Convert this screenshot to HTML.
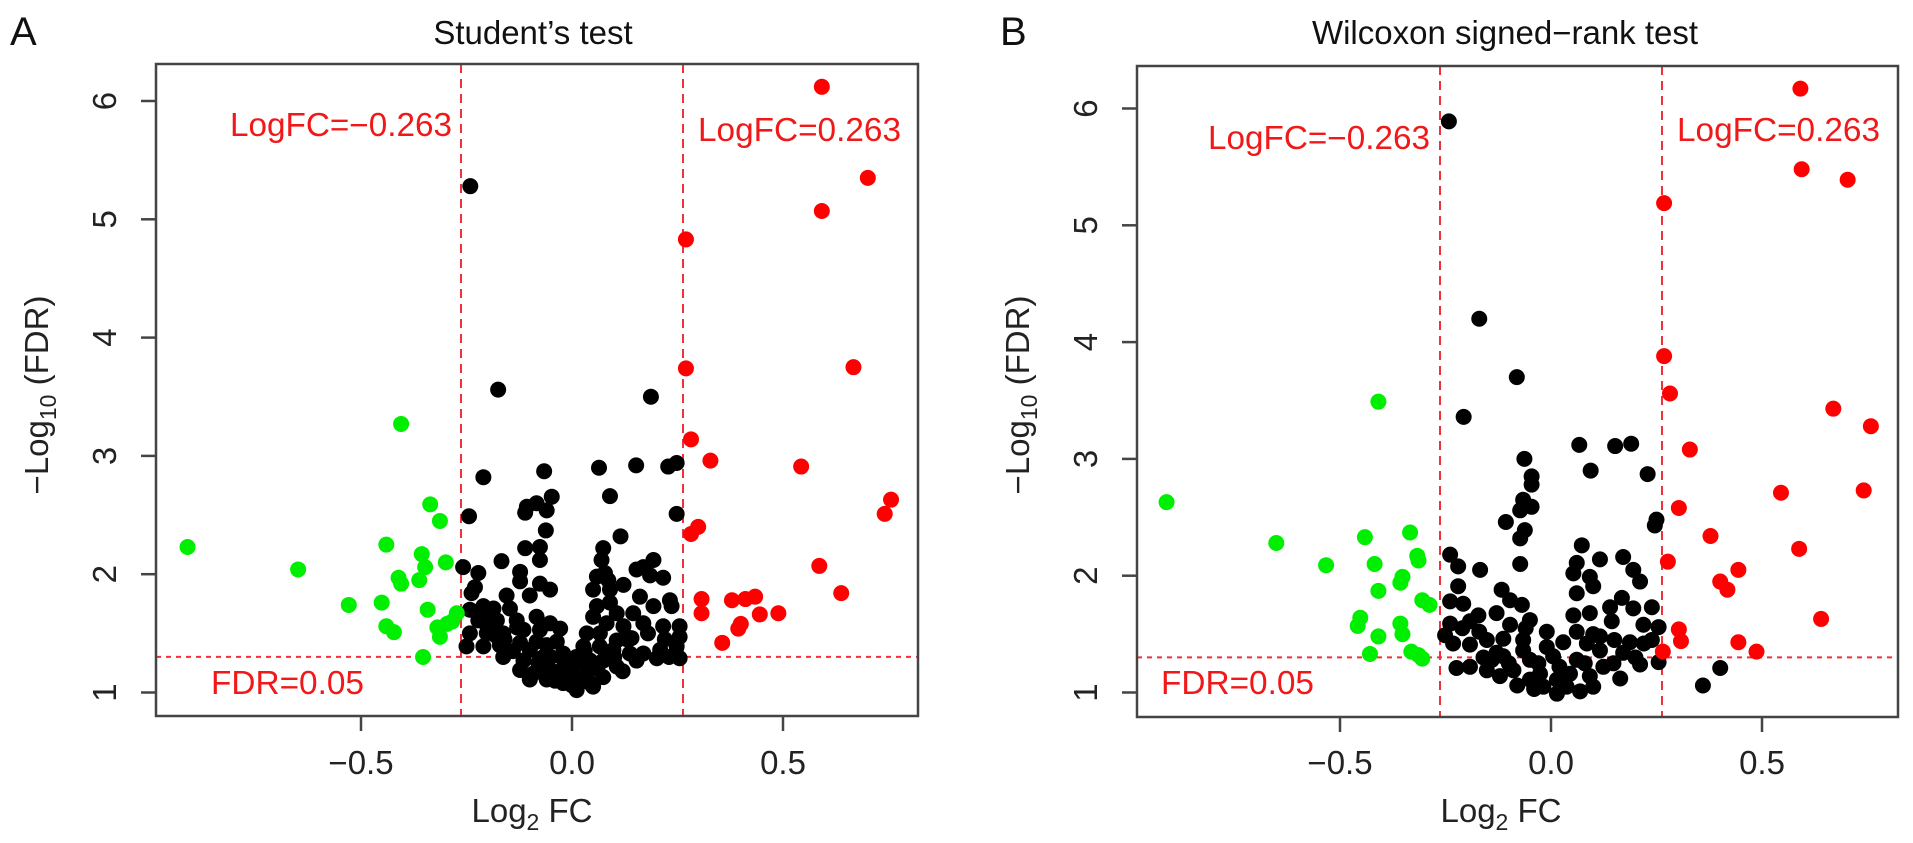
<!DOCTYPE html>
<html><head><meta charset="utf-8"><title>Volcano plots</title>
<style>
html,body{margin:0;padding:0;background:#fff;}
svg{display:block;font-family:"Liberation Sans",Arial,sans-serif;}
</style></head>
<body>
<svg id="chart" width="1913" height="843" viewBox="0 0 1913 843" xmlns="http://www.w3.org/2000/svg"></svg>
<script>
// ---------- data: Panel A (Student's test) ----------
const aRedX = [0.592,0.701,0.592,0.270,0.667,0.270,0.282,0.328,0.543,0.756,0.741,0.299,0.282,0.586,0.638,0.307,0.307,0.379,0.434,0.411,0.445,0.489,0.400,0.394,0.356];
const aRedY = [6.12,5.35,5.07,4.83,3.75,3.74,3.14,2.96,2.91,2.63,2.51,2.40,2.34,2.07,1.84,1.79,1.67,1.78,1.81,1.79,1.66,1.67,1.58,1.54,1.42];
const aGreenX = [-0.911,-0.649,-0.405,-0.336,-0.313,-0.440,-0.356,-0.299,-0.348,-0.411,-0.405,-0.362,-0.529,-0.451,-0.342,-0.273,-0.284,-0.440,-0.422,-0.319,-0.313,-0.296,-0.353];
const aGreenY = [2.23,2.04,3.27,2.59,2.45,2.25,2.17,2.10,2.06,1.97,1.92,1.95,1.74,1.76,1.70,1.67,1.60,1.56,1.51,1.55,1.47,1.58,1.30];
const aBlackX = [-0.241,-0.175,0.187,-0.210,-0.066,0.064,0.152,0.228,0.248,-0.244,-0.111,-0.107,-0.084,-0.048,-0.060,-0.062,0.090,0.248,0.115,-0.111,-0.076,-0.076,-0.167,-0.258,-0.222,-0.230,-0.238,-0.123,-0.123,-0.076,-0.052,-0.155,-0.100,-0.210,-0.186,-0.147,-0.242,-0.222,-0.178,-0.131,-0.084,-0.052,-0.028,-0.242,-0.202,-0.163,-0.115,-0.076,-0.250,-0.210,-0.171,-0.123,-0.084,-0.036,-0.163,-0.115,-0.068,-0.021,-0.123,-0.092,-0.052,-0.013,0.027,-0.100,-0.060,-0.021,0.011,0.043,0.074,0.106,0.003,0.074,0.070,0.078,0.059,0.086,0.050,0.090,0.122,0.153,0.169,0.193,0.185,0.216,0.161,0.193,0.232,0.236,0.059,0.090,0.106,0.145,0.050,0.082,0.122,0.169,0.216,0.255,0.035,0.066,0.106,0.141,0.255,0.027,0.066,0.098,0.137,0.169,0.209,0.248,0.255,0.043,0.074,0.153,0.201,-0.190,-0.160,-0.100,-0.050,0.000,0.020,0.040,-0.040,-0.080,0.010,0.100,0.120,-0.200,-0.220,-0.180,-0.140,-0.130,-0.060,-0.020,0.030,0.060,0.090,0.130,0.180,0.220,0.230,-0.030,0.050,-0.070,0.000];
const aBlackY = [5.28,3.56,3.50,2.82,2.87,2.90,2.92,2.91,2.94,2.49,2.52,2.57,2.60,2.655,2.54,2.37,2.66,2.51,2.32,2.22,2.23,2.12,2.11,2.06,2.01,1.89,1.84,2.02,1.94,1.92,1.87,1.82,1.82,1.73,1.71,1.71,1.70,1.61,1.61,1.61,1.64,1.585,1.54,1.50,1.50,1.50,1.53,1.53,1.39,1.39,1.40,1.42,1.43,1.43,1.30,1.27,1.30,1.33,1.19,1.16,1.19,1.22,1.25,1.11,1.11,1.08,1.02,1.08,1.13,1.22,1.13,2.22,2.12,2.01,1.98,1.95,1.87,1.87,1.91,2.04,2.06,2.12,1.99,1.97,1.81,1.73,1.78,1.73,1.73,1.76,1.67,1.67,1.64,1.585,1.56,1.585,1.56,1.56,1.50,1.50,1.44,1.46,1.47,1.39,1.39,1.36,1.33,1.33,1.36,1.39,1.29,1.27,1.27,1.27,1.29,1.62,1.45,1.36,1.30,1.18,1.12,1.20,1.10,1.25,1.30,1.30,1.18,1.55,1.65,1.48,1.35,1.55,1.40,1.28,1.35,1.20,1.32,1.45,1.50,1.45,1.30,1.18,1.05,1.20,1.06];

// ---------- data: Panel B (Wilcoxon signed-rank test) ----------
const bRedX = [0.591,0.594,0.703,0.268,0.268,0.282,0.669,0.758,0.329,0.741,0.545,0.303,0.378,0.588,0.277,0.444,0.401,0.418,0.640,0.303,0.308,0.444,0.487,0.265];
const bRedY = [6.17,5.48,5.39,5.19,3.88,3.56,3.43,3.28,3.08,2.73,2.71,2.58,2.34,2.23,2.12,2.05,1.95,1.88,1.63,1.54,1.44,1.43,1.35,1.35];
const bGreenX = [-0.911,-0.651,-0.409,-0.533,-0.441,-0.334,-0.317,-0.314,-0.418,-0.352,-0.357,-0.409,-0.305,-0.288,-0.452,-0.458,-0.357,-0.352,-0.429,-0.331,-0.314,-0.305,-0.409];
const bGreenY = [2.63,2.28,3.49,2.09,2.33,2.37,2.17,2.13,2.10,1.99,1.94,1.87,1.79,1.75,1.64,1.57,1.59,1.50,1.33,1.35,1.32,1.29,1.48];
const bBlackX = [-0.242,-0.170,-0.081,-0.207,0.401,0.360,0.067,0.152,0.190,-0.063,0.094,0.229,-0.046,-0.046,-0.066,-0.046,-0.073,-0.107,-0.062,-0.073,0.250,0.246,0.073,-0.239,-0.220,-0.168,-0.073,0.061,0.116,0.171,0.053,0.092,0.195,0.211,-0.220,-0.117,0.061,0.100,-0.239,-0.208,-0.097,-0.069,0.168,0.140,0.195,0.239,-0.172,-0.129,-0.050,0.053,0.092,-0.239,-0.192,-0.097,-0.010,0.061,0.116,0.144,0.219,0.255,-0.251,-0.232,-0.192,-0.152,-0.113,-0.066,0.029,0.085,0.187,0.239,-0.224,-0.192,-0.152,-0.121,-0.080,-0.050,-0.018,0.014,0.037,0.069,0.092,0.124,0.164,0.148,0.211,0.255,-0.113,-0.050,0.005,0.061,-0.089,-0.026,0.045,0.014,-0.129,-0.066,-0.010,0.116,0.171,-0.210,-0.170,-0.140,-0.100,-0.030,0.020,0.080,0.100,0.150,0.200,-0.060,0.030,-0.040,0.100,-0.160,0.220];
const bBlackY = [5.89,4.20,3.70,3.36,1.21,1.06,3.12,3.11,3.13,3.00,2.90,2.87,2.85,2.78,2.65,2.59,2.56,2.46,2.39,2.32,2.48,2.43,2.26,2.18,2.08,2.05,2.10,2.11,2.14,2.16,2.02,1.99,2.05,1.95,1.91,1.88,1.85,1.91,1.78,1.76,1.79,1.75,1.81,1.73,1.72,1.73,1.66,1.68,1.62,1.66,1.68,1.59,1.61,1.58,1.52,1.52,1.48,1.61,1.58,1.56,1.49,1.42,1.41,1.45,1.46,1.45,1.43,1.42,1.43,1.45,1.21,1.22,1.19,1.14,1.06,1.11,1.05,0.99,1.05,1.01,1.14,1.22,1.12,1.25,1.24,1.26,1.31,1.28,1.31,1.28,1.19,1.16,1.16,1.11,1.34,1.36,1.39,1.36,1.34,1.55,1.52,1.28,1.25,1.25,1.22,1.25,1.50,1.45,1.30,1.55,1.08,1.03,1.05,1.30,1.42];

const xTicks = [-0.5, 0.0, 0.5];
const xTickLabels = ["\u22120.5", "0.0", "0.5"];
const yTicks = [1, 2, 3, 4, 5, 6];
const yTickLabels = ["1", "2", "3", "4", "5", "6"];
const fcCut = 0.263;
const fdrCut = 1.301;

const NS = "http://www.w3.org/2000/svg";
const svg = document.getElementById("chart");
function mk(tag, attrs, parent) {
  const e = document.createElementNS(NS, tag);
  for (const k in attrs) e.setAttribute(k, attrs[k]);
  (parent || svg).appendChild(e);
  return e;
}

function panel(cfg) {
  const g = mk("g", {});
  
  
  const sx = v => cfg.x0 + v * cfg.kx;
  const sy = v => cfg.y1 - (v - 1) * cfg.ky;

  const letter = mk("text", {x: cfg.letterX, y: 45, "font-size": 40, fill: "#111"}, g);
  letter.textContent = cfg.letter;
  
  

  const t = mk("text", {x: cfg.titleX, y: 44, "font-size": 33, "text-anchor": "middle", fill: "#111"}, g);
  t.textContent = cfg.title;
  
  

  [-fcCut, fcCut].forEach(v => {
    const l = mk("line", {x1: sx(v), x2: sx(v), y1: cfg.top, y2: cfg.bottom, stroke: "#f0303a", "stroke-width": 2, "stroke-dasharray": "9,6"}, g);
    
    
  });
  const h = mk("line", {x1: cfg.left, x2: cfg.right, y1: sy(fdrCut), y2: sy(fdrCut), stroke: "#f0303a", "stroke-width": 2, "stroke-dasharray": "5,5"}, g);
  
  

  function pts(xs, ys, color, name) {
    for (let i = 0; i < xs.length; i++) {
      const c = mk("circle", {cx: sx(xs[i]), cy: sy(ys[i]), r: 8, fill: color}, g);
      
      
    }
  }
  pts(cfg.bx, cfg.by, "#000", "point-not-significant");
  pts(cfg.gx, cfg.gy, "#00ee00", "point-down-regulated");
  pts(cfg.rx, cfg.ry, "#ff0000", "point-up-regulated");

  function lab(txt, x, y, anchor, len, name) {
    const e = mk("text", {x: x, y: y, "font-size": 33, fill: "#f01818", "text-anchor": anchor, textLength: len, lengthAdjust: "spacingAndGlyphs"}, g);
    e.textContent = txt;
    
    
  }
  lab("LogFC=\u22120.263", cfg.negLabX, cfg.negLabY, "start", 222, "logfc-negative-label");
  lab("LogFC=0.263", cfg.posLabX, cfg.posLabY, "start", 203, "logfc-positive-label");
  lab("FDR=0.05", cfg.fdrLabX, 694, "start", 153, "fdr-label");

  const box = mk("rect", {x: cfg.left, y: cfg.top, width: cfg.right - cfg.left, height: cfg.bottom - cfg.top, fill: "none", stroke: "#444", "stroke-width": 2.5}, g);
  
  

  xTicks.forEach((v, i) => {
    const tk = mk("line", {x1: sx(v), x2: sx(v), y1: cfg.bottom, y2: cfg.bottom + 15, stroke: "#444", "stroke-width": 2.5}, g);
    
    
    const tl = mk("text", {x: sx(v), y: 774, "font-size": 33, "text-anchor": "middle", fill: "#222"}, g);
    tl.textContent = xTickLabels[i];
    
    
  });
  const xt = mk("text", {x: cfg.xTitleX, y: 822, "font-size": 33, "text-anchor": "middle", fill: "#222"}, g);
  xt.innerHTML = 'Log<tspan font-size="23" dy="8">2</tspan><tspan dy="-8"> FC</tspan>';
  
  

  yTicks.forEach((v, i) => {
    const tk = mk("line", {x1: cfg.left - 15, x2: cfg.left, y1: sy(v), y2: sy(v), stroke: "#444", "stroke-width": 2.5}, g);
    
    
    const tx = cfg.left - 40, ty = sy(v);
    const tl = mk("text", {x: tx, y: ty, "font-size": 33, "text-anchor": "middle", fill: "#222", transform: `rotate(-90 ${tx} ${ty})`}, g);
    tl.textContent = yTickLabels[i];
    
    
  });
  const yx = cfg.left - 108, yy = 395;
  const yt = mk("text", {x: yx, y: yy, "font-size": 33, "text-anchor": "middle", fill: "#222", transform: `rotate(-90 ${yx} ${yy})`}, g);
  yt.innerHTML = '\u2212Log<tspan font-size="23" dy="8">10</tspan><tspan dy="-8"> (FDR)</tspan>';
  
  
}

panel({name: "panel-a-student-test", letter: "A", letterX: 10, title: "Student\u2019s test", titleX: 533,
  left: 156, right: 918, top: 64, bottom: 716, x0: 572, kx: 422, y1: 692.5, ky: 118.3,
  rx: aRedX, ry: aRedY, gx: aGreenX, gy: aGreenY, bx: aBlackX, by: aBlackY,
  negLabX: 230, negLabY: 136, posLabX: 698, posLabY: 141, fdrLabX: 211, xTitleX: 532});
panel({name: "panel-b-wilcoxon-test", letter: "B", letterX: 1000, title: "Wilcoxon signed\u2212rank test", titleX: 1505,
  left: 1137, right: 1898, top: 66, bottom: 717, x0: 1551, kx: 422, y1: 692.5, ky: 116.8,
  rx: bRedX, ry: bRedY, gx: bGreenX, gy: bGreenY, bx: bBlackX, by: bBlackY,
  negLabX: 1208, negLabY: 149, posLabX: 1677, posLabY: 141, fdrLabX: 1161, xTitleX: 1501});
</script>
</body></html>
